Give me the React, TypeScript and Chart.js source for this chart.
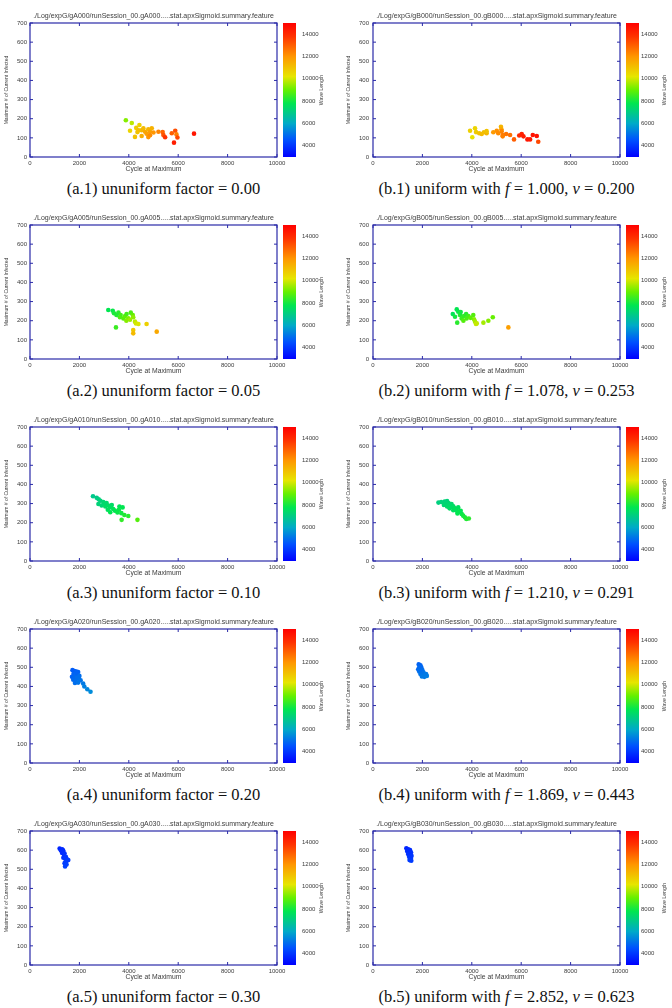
import React, { useEffect, useRef } from "react";
import { Chart, registerables } from "chart.js";
Chart.register(...registerables);

const X_TICKS = [0, 2000, 4000, 6000, 8000, 10000];
const Y_TICKS = [0, 100, 200, 300, 400, 500, 600, 700];
const CB_TICKS = [4000, 6000, 8000, 10000, 12000, 14000];
const CB_MIN = 3000;
const CB_MAX = 15000;

// ---- (a.1) gA000
const A1_X = [3880, 4120, 4050, 4250, 4300, 4430, 4350, 4520, 4590, 4520, 4660, 4720, 4790, 4790, 4860, 4930, 4860, 5200, 5370, 5400, 5470, 5740, 5880, 5930, 5970, 5830, 6640, 4400, 5000];
const A1_Y = [192, 178, 137, 105, 152, 167, 130, 140, 150, 110, 132, 122, 145, 104, 132, 150, 114, 132, 130, 115, 103, 124, 137, 118, 102, 75, 122, 140, 128];
const A1_WL = [9300, 9800, 10600, 11000, 10800, 10700, 11000, 11300, 11200, 11500, 11600, 11800, 11300, 12000, 11800, 11400, 12200, 12300, 12900, 13200, 13800, 13000, 13300, 12400, 13400, 14300, 14500, 11100, 12000];

// ---- (b.1) gB000
const B1_X = [3930, 4020, 4130, 4170, 4300, 4400, 4490, 4600, 4600, 4870, 5010, 5070, 5180, 5200, 5210, 5250, 5250, 5390, 5550, 5710, 5920, 6020, 6090, 6250, 6360, 6470, 6630, 6690];
const B1_Y = [137, 103, 150, 130, 124, 120, 129, 124, 135, 129, 137, 124, 158, 145, 135, 115, 108, 120, 115, 92, 112, 120, 108, 92, 92, 115, 110, 80];
const B1_WL = [10700, 10300, 10600, 10800, 11000, 11200, 11100, 11300, 11000, 11900, 12100, 12200, 11300, 11600, 12300, 12500, 12400, 12600, 12700, 13000, 14000, 14200, 14300, 14500, 14400, 14600, 14600, 13400];

// ---- (a.2) gA005
const A2_X = [3170, 3350, 3400, 3580, 3670, 3640, 3780, 3850, 3910, 3980, 4080, 4160, 4180, 4250, 4290, 4390, 4720, 3480, 4180, 4180, 5130, 3500, 3900, 4050];
const A2_Y = [256, 252, 239, 242, 230, 218, 212, 225, 235, 212, 242, 230, 218, 195, 186, 183, 183, 165, 151, 134, 143, 230, 200, 205];
const A2_WL = [7800, 7900, 8100, 8300, 8600, 8700, 8800, 8900, 8600, 9200, 8700, 9000, 9400, 9800, 10000, 10100, 10700, 8500, 10900, 11200, 11600, 8200, 9300, 9500];

// ---- (b.2) gB005
const B2_X = [3390, 3450, 3230, 3320, 3520, 3590, 3680, 3770, 3790, 3660, 3860, 4060, 4090, 4130, 4200, 4170, 4470, 4670, 4850, 5480, 3410, 3550, 3950];
const B2_Y = [259, 247, 235, 221, 230, 212, 225, 235, 212, 200, 225, 230, 207, 195, 186, 183, 190, 200, 218, 165, 190, 245, 215];
const B2_WL = [7800, 7900, 7700, 8000, 8200, 8500, 8400, 8300, 8700, 8800, 8600, 8800, 9300, 9600, 9800, 9900, 9600, 9300, 9000, 11800, 8300, 8000, 8900];

// ---- (a.3) gA010
const A3_X = [2550, 2700, 2780, 2850, 2970, 2770, 3000, 3100, 2900, 3050, 3170, 3240, 3310, 3150, 3370, 3440, 3250, 3540, 3620, 3750, 3600, 3700, 3820, 3710, 3980, 4350];
const A3_Y = [338, 330, 322, 315, 308, 298, 300, 303, 290, 285, 290, 280, 292, 268, 272, 263, 255, 254, 285, 280, 268, 250, 240, 215, 235, 215];
const A3_WL = [6900, 7000, 7100, 7200, 7300, 7200, 7400, 7400, 7300, 7500, 7500, 7600, 7500, 7600, 7700, 7800, 7800, 7900, 7700, 7800, 7900, 8000, 8200, 8400, 8300, 8800];

// ---- (b.3) gB010
const B3_X = [2650, 2760, 2900, 3000, 2950, 3060, 3120, 2870, 3000, 3180, 3200, 3100, 3250, 3320, 3250, 3390, 3450, 3500, 3420, 3590, 3650, 3720, 3780, 3880, 3550];
const B3_Y = [305, 308, 310, 313, 298, 303, 292, 293, 285, 298, 282, 275, 286, 275, 265, 263, 280, 258, 248, 246, 237, 228, 220, 222, 262];
const B3_WL = [7100, 7200, 7200, 7200, 7300, 7300, 7400, 7300, 7400, 7400, 7500, 7500, 7500, 7600, 7600, 7700, 7600, 7800, 7800, 7900, 8000, 8100, 8200, 8300, 7800];

// ---- (a.4) gA020
const A4_X = [1720, 1800, 1880, 1950, 1760, 1850, 1930, 1700, 1800, 1900, 1980, 1750, 1850, 2050, 1820, 1950, 2150, 2200, 2320, 2450, 1900, 2000];
const A4_Y = [485, 480, 478, 475, 465, 462, 458, 450, 448, 445, 440, 435, 430, 432, 418, 420, 415, 400, 385, 372, 470, 455];
const A4_WL = [4700, 4700, 4800, 4800, 4800, 4900, 4900, 4800, 4900, 5000, 5000, 4900, 5000, 5100, 5000, 5100, 5200, 5300, 5400, 5500, 4800, 5000];

// ---- (b.4) gB020
const B4_X = [1850, 1920, 1880, 1960, 1830, 1900, 2000, 1870, 1950, 2050, 1920, 2000, 2100, 1980, 2080, 2180, 2150, 1900];
const B4_Y = [515, 510, 500, 498, 490, 488, 485, 478, 475, 472, 465, 462, 460, 452, 450, 455, 465, 505];
const B4_WL = [4800, 4800, 4900, 4900, 4900, 5000, 5000, 5000, 5000, 5100, 5100, 5100, 5200, 5200, 5200, 5300, 5200, 4900];

// ---- (a.5) gA030
const A5_X = [1200, 1300, 1250, 1350, 1300, 1400, 1380, 1450, 1350, 1420, 1500, 1550, 1460, 1400, 1480, 1420, 1330];
const A5_Y = [608, 605, 598, 595, 585, 582, 570, 565, 560, 555, 552, 548, 540, 532, 525, 515, 600];
const A5_WL = [3700, 3700, 3800, 3800, 3800, 3900, 3900, 4000, 3900, 4000, 4000, 4100, 4100, 4100, 4200, 4200, 3800];

// ---- (b.5) gB030
const B5_X = [1350, 1430, 1500, 1380, 1460, 1540, 1420, 1500, 1560, 1460, 1530, 1480, 1550];
const B5_Y = [610, 605, 600, 595, 590, 588, 580, 575, 570, 565, 558, 548, 545];
const B5_WL = [3700, 3700, 3800, 3800, 3800, 3900, 3900, 3900, 4000, 4000, 4000, 4100, 4100];

const A_TAGS = ["gA000", "gA005", "gA010", "gA020", "gA030"];
const B_TAGS = ["gB000", "gB005", "gB010", "gB020", "gB030"];
const A_FACTORS = ["0.00", "0.05", "0.10", "0.20", "0.30"];
const B_F = ["1.000", "1.078", "1.210", "1.869", "2.852"];
const B_V = ["0.200", "0.253", "0.291", "0.443", "0.623"];

const A_DATA = [
  [A1_X, A1_Y, A1_WL],
  [A2_X, A2_Y, A2_WL],
  [A3_X, A3_Y, A3_WL],
  [A4_X, A4_Y, A4_WL],
  [A5_X, A5_Y, A5_WL],
];
const B_DATA = [
  [B1_X, B1_Y, B1_WL],
  [B2_X, B2_Y, B2_WL],
  [B3_X, B3_Y, B3_WL],
  [B4_X, B4_Y, B4_WL],
  [B5_X, B5_Y, B5_WL],
];

const FRAME = "#2a2aa8";
const TEXT = "#3c3c3c";
const FONT = "'Liberation Sans', Arial, sans-serif";
const SERIF = "'Liberation Serif', 'Times New Roman', serif";

const STOPS: [number, number[]][] = [
  [0, [0, 0, 255]],
  [0.125, [0, 80, 255]],
  [0.25, [0, 170, 200]],
  [0.4, [0, 230, 80]],
  [0.5, [100, 240, 0]],
  [0.6, [230, 230, 0]],
  [0.75, [255, 150, 0]],
  [0.9, [255, 50, 0]],
  [1, [255, 0, 0]],
];

function jet(v: number): string {
  const t = Math.max(0, Math.min(1, (v - CB_MIN) / (CB_MAX - CB_MIN)));
  for (let i = 1; i < STOPS.length; i++) {
    if (t <= STOPS[i][0]) {
      const [t0, c0] = STOPS[i - 1];
      const [t1, c1] = STOPS[i];
      const f = (t - t0) / (t1 - t0);
      return `rgb(${c0.map((c, k) => Math.round(c + (c1[k] - c) * f)).join(",")})`;
    }
  }
  return "rgb(255,0,0)";
}

const GEOM = [
  { yw: 30, cbw: 59, cbPad: 25, yTitlePad: 3.7, yTickPad: 3, wlX: 45 },
  { yw: 37, cbw: 52, cbPad: 21, yTitlePad: 9.7, yTickPad: 4, wlX: 45 },
];

function makeFrame(g: any) {
  return {
    id: "frame",
    afterDraw(chart: any) {
      const { ctx, chartArea: a, scales } = chart;
      const xs = scales.x, ys = scales.y, cb = scales.cb;
      ctx.save();
      const top = cb.getPixelForValue(CB_MAX);
      const bot = cb.getPixelForValue(CB_MIN);
      const grad = ctx.createLinearGradient(0, bot, 0, top);
      STOPS.forEach(([t, c]) => grad.addColorStop(t, `rgb(${c.join(",")})`));
      ctx.fillStyle = grad;
      ctx.fillRect(a.right + 6, top, 13, bot - top);

      ctx.strokeStyle = FRAME;
      ctx.lineWidth = 1.2;
      ctx.strokeRect(a.left, a.top, a.right - a.left, a.bottom - a.top);
      ctx.lineWidth = 1;
      ctx.beginPath();
      for (const v of X_TICKS) {
        const px = xs.getPixelForValue(v);
        ctx.moveTo(px, a.bottom); ctx.lineTo(px, a.bottom - 3);
        ctx.moveTo(px, a.top); ctx.lineTo(px, a.top + 3);
      }
      for (const v of Y_TICKS) {
        const py = ys.getPixelForValue(v);
        ctx.moveTo(a.left, py); ctx.lineTo(a.left + 3, py);
        ctx.moveTo(a.right, py); ctx.lineTo(a.right - 3, py);
      }
      ctx.stroke();

      ctx.translate(a.right + g.wlX, (top + bot) / 2);
      ctx.rotate(-Math.PI / 2);
      ctx.fillStyle = TEXT;
      ctx.font = `5.2px ${FONT}`;
      ctx.textAlign = "center";
      ctx.textBaseline = "middle";
      ctx.fillText("Wave Length", 0, 0);
      ctx.restore();
    },
  };
}

function Panel({ col, row }: { col: number; row: number }) {
  const ref = useRef<HTMLCanvasElement>(null);
  useEffect(() => {
    const g = GEOM[col];
    const [xs, ys, wl] = (col === 0 ? A_DATA : B_DATA)[row];
    const tag = (col === 0 ? A_TAGS : B_TAGS)[row];
    const tickFmt = (v: any) => String(v);
    const chart = new Chart(ref.current as HTMLCanvasElement, {
      type: "scatter",
      data: {
        datasets: [
          {
            data: xs.map((x: number, i: number) => ({ x, y: ys[i] })),
            backgroundColor: wl.map(jet),
            pointRadius: 2.3,
            pointHoverRadius: 2.3,
            borderWidth: 0,
          },
        ],
      },
      options: {
        responsive: false,
        animation: false,
        events: [],
        layout: { padding: 0, autoPadding: false },
        plugins: {
          legend: { display: false },
          tooltip: { enabled: false },
          title: {
            display: true,
            fullSize: false,
            text: `./Log/expG/${tag}/runSession_00.${tag}.....stat.apxSigmoid.summary.feature`,
            color: TEXT,
            font: { family: FONT, size: 7, weight: "normal", lineHeight: 1.2 },
            padding: { top: 12, bottom: 2.6 },
          },
        },
        scales: {
          x: {
            type: "linear",
            min: 0,
            max: 10000,
            afterBuildTicks: (s: any) => { s.ticks = X_TICKS.map((v) => ({ value: v })); },
            grid: { display: false, drawTicks: false },
            border: { display: false },
            ticks: { color: TEXT, font: { family: FONT, size: 6 }, padding: 2.5, maxRotation: 0, autoSkip: false, callback: tickFmt },
            title: { display: true, text: "Cycle at Maximum", color: TEXT, font: { family: FONT, size: 6.8 }, padding: { top: 0, bottom: 5 } },
            afterFit: (s: any) => { s.height = 21; },
          },
          y: {
            type: "linear",
            position: "left",
            min: 0,
            max: 700,
            afterBuildTicks: (s: any) => { s.ticks = Y_TICKS.map((v) => ({ value: v })); },
            grid: { display: false, drawTicks: false },
            border: { display: false },
            ticks: { color: TEXT, font: { family: FONT, size: 6 }, padding: g.yTickPad, autoSkip: false, callback: tickFmt },
            title: { display: true, text: "Maximum # of Current Infected", color: TEXT, font: { family: FONT, size: 5 }, padding: { top: g.yTitlePad, bottom: 0 } },
            afterFit: (s: any) => { s.width = g.yw; },
          },
          cb: {
            type: "linear",
            axis: "y",
            position: "right",
            min: CB_MIN,
            max: CB_MAX,
            afterBuildTicks: (s: any) => { s.ticks = CB_TICKS.map((v) => ({ value: v })); },
            grid: { display: false, drawTicks: true, tickLength: g.cbPad },
            border: { display: false },
            ticks: { color: TEXT, font: { family: FONT, size: 6 }, padding: 0, autoSkip: false, callback: tickFmt },
            afterFit: (s: any) => { s.width = g.cbw; },
          },
        },
      } as any,
      plugins: [makeFrame(g)],
    });
    return () => chart.destroy();
  }, [col, row]);
  return (
    <canvas
      ref={ref}
      width={336}
      height={178}
      style={{ position: "absolute", left: col * 336, top: row * 202, width: 336, height: 178 }}
    />
  );
}

function Caption({ col, row }: { col: number; row: number }) {
  const center = col === 0 ? 163.5 : 506.5;
  const style: React.CSSProperties = {
    position: "absolute",
    left: center - 200,
    width: 400,
    top: row * 202 + 179,
    height: 20,
    lineHeight: "20px",
    textAlign: "center",
    fontFamily: SERIF,
    fontSize: 16.5,
    color: "#111",
    whiteSpace: "nowrap",
  };
  if (col === 0) {
    return <div style={style}>{`(a.${row + 1}) ununiform factor = ${A_FACTORS[row]}`}</div>;
  }
  return (
    <div style={style}>
      {`(b.${row + 1}) uniform with `}
      <i>f</i>
      {` = ${B_F[row]}, `}
      <i>v</i>
      {` = ${B_V[row]}`}
    </div>
  );
}

export default function App() {
  const rows = [0, 1, 2, 3, 4];
  return (
    <div style={{ position: "absolute", left: 0, top: 0, width: 672, height: 1008, background: "#fff", overflow: "hidden" }}>
      {rows.map((r) => (
        <React.Fragment key={r}>
          <Panel col={0} row={r} />
          <Panel col={1} row={r} />
          <Caption col={0} row={r} />
          <Caption col={1} row={r} />
        </React.Fragment>
      ))}
    </div>
  );
}
